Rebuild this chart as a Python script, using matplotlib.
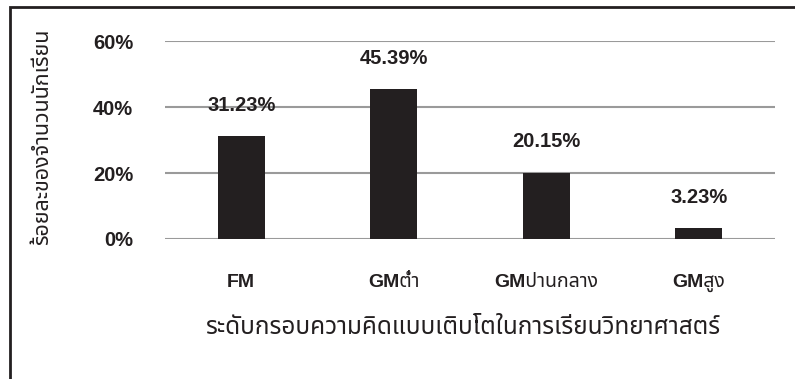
import matplotlib
matplotlib.use("Agg")
import matplotlib.pyplot as plt
from matplotlib.patches import Rectangle

# data
categories = ["FM", "GMต่ำ", "GMปานกลาง", "GMสูง"]
percent = [31.23, 45.39, 20.15, 3.23]
yticks = [0, 20, 40, 60]

plt.rcParams['font.family'] = ['Liberation Sans', 'Noto Sans Thai', 'DejaVu Sans']
ink = '#231f20'

fig = plt.figure(figsize=(7.95, 3.79), dpi=100)
ax = fig.add_axes([0.2075, 0.3694, 0.7675, 0.5224])

x = range(len(categories))
ax.bar(x, percent, width=0.31, color=ink, zorder=3)

# value labels above bars
for xi, v in zip(x, percent):
    ax.annotate(f"{v:.2f}%", (xi, v), xytext=(0, 22), textcoords='offset points',
                ha='center', va='center', fontsize=14.5, fontweight='bold', color=ink)

ax.set_ylim(0, 60)
ax.set_xlim(-0.5, len(categories) - 0.5)
ax.set_yticks(yticks)
ax.set_yticklabels([f"{t}%" for t in yticks], fontsize=14.5, fontweight='bold', color=ink)
ax.set_xticks(list(x))
ax.set_xticklabels(categories, fontsize=14, fontweight='bold', color=ink)
ax.tick_params(length=0)
ax.tick_params(axis='y', pad=23)
ax.tick_params(axis='x', pad=25)
ax.yaxis.grid(True, color='#9a9a9a', linewidth=1.5, zorder=0)
for s in ax.spines.values():
    s.set_visible(False)

ax.set_ylabel("ร้อยละของจำนวนนักเรียน", fontsize=15.5, fontweight='bold', color=ink)
ax.yaxis.set_label_coords((53 - 165) / 610, 0.515)

fig.text(0.582, 1 - 328 / 379, "ระดับกรอบความคิดแบบเติบโตในการเรียนวิทยาศาสตร์",
         ha='center', va='center', fontsize=17.5, fontweight='medium', color=ink)

# frame (left and top edges visible)
fig.patches.append(Rectangle((10 / 795, -0.1), 1.2, 1.1 - 7 / 379,
                             transform=fig.transFigure, fill=False,
                             edgecolor=ink, linewidth=2))

fig.savefig("out.png", dpi=100)
